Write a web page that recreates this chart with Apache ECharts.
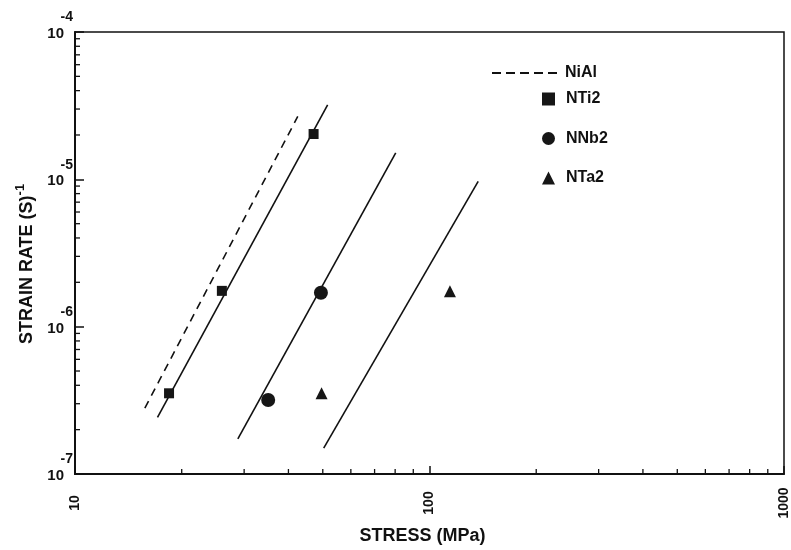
<!DOCTYPE html>
<html><head><meta charset="utf-8">
<script src="https://cdn.jsdelivr.net/npm/echarts@6/dist/echarts.min.js"></script>
<style>html,body{margin:0;padding:0;background:#fff}#c{width:791px;height:550px}</style>
</head><body><div id="c"></div>
<script>
// ---- data ----
const xTicks = [10, 100, 1000];
const yTicks = [1e-7, 1e-6, 1e-5, 1e-4];
const xMinor = [20,30,40,50,60,70,80,90,200,300,400,500,600,700,800,900];
const yMinor = [2e-7,3e-7,4e-7,5e-7,6e-7,7e-7,8e-7,9e-7,
                2e-6,3e-6,4e-6,5e-6,6e-6,7e-6,8e-6,9e-6,
                2e-5,3e-5,4e-5,5e-5,6e-5,7e-5,8e-5,9e-5];
const niAlLine = [[15.74, 2.80e-7], [42.5, 2.67e-5]];
const nti2Fit  = [[17.09, 2.42e-7], [51.6, 3.20e-5]];
const nnb2Fit  = [[28.8, 1.73e-7], [80.3, 1.51e-5]];
const nta2Fit  = [[50.3, 1.50e-7], [137.2, 9.7e-6]];
const nti2Pts  = [[18.42, 3.53e-7], [25.96, 1.75e-6], [47.1, 2.03e-5]];
const nnb2Pts  = [[35.07, 3.18e-7], [49.4, 1.70e-6]];
const nta2Pts  = [[49.6, 3.53e-7], [114.2, 1.74e-6]];
const xTitle = 'STRESS (MPa)';
const yTitle = 'STRAIN RATE (S)';
const yTitleSup = '-1';

// ---- chart ----
const FF = '"Liberation Sans", Arial, Helvetica, sans-serif';
const INK = '#111';
const chart = echarts.init(document.getElementById('c'), null, {renderer: 'canvas'});

const lineBase = (name, data, type) => ({
  name, type: 'line', data, symbol: 'none', silent: true, z: 3,
  lineStyle: {color: INK, width: 1.6, type: type || 'solid'},
  itemStyle: {color: INK}
});
const ptsBase = (name, data, symbol, size) => ({
  name, type: 'scatter', data, symbol, symbolSize: size, z: 5,
  itemStyle: {color: '#161616', opacity: 1}
});
const legendText = {color: INK, fontSize: 16, fontWeight: 'bold', fontFamily: FF};

chart.setOption({
  animation: false,
  backgroundColor: '#fff',
  grid: {left: 75, right: 5, top: 32, bottom: 75, show: true, borderColor: INK, borderWidth: 1.5},
  legend: [
    {
      data: [{name: 'NiAl', icon: 'path://M0 0H9V2H0Z M14 0H23V2H14Z M28 0H37V2H28Z M42 0H51V2H42Z M56 0H65V2H56Z'}],
      left: 487, top: 60, itemWidth: 65, itemHeight: 2,
      itemStyle: {color: INK, opacity: 1},
      textStyle: Object.assign({padding: [0, 0, 0, 3]}, legendText)
    },
    {
      data: [{name: 'NTi2', icon: 'rect'}, {name: 'NNb2', icon: 'circle'}, {name: 'NTa2', icon: 'triangle'}],
      orient: 'vertical', left: 537, top: 86, itemWidth: 13, itemHeight: 13, itemGap: 23.5,
      itemStyle: {opacity: 1},
      textStyle: Object.assign({padding: [0, 0, 0, 6]}, legendText)
    }
  ],
  xAxis: {
    type: 'log', logBase: 10, min: xTicks[0], max: xTicks[xTicks.length - 1],
    name: xTitle, nameLocation: 'middle', nameGap: 53,
    nameTextStyle: {color: INK, fontSize: 18, fontWeight: 'bold', fontFamily: FF, padding: [0, 14, 0, 0]},
    axisLine: {lineStyle: {color: INK, width: 2}},
    axisTick: {inside: true, length: 8, lineStyle: {color: INK, width: 1.5}},
    splitLine: {show: false}, minorTick: {show: false},
    axisLabel: {
      rotate: 90, align: 'center', margin: 29, color: INK, fontSize: 14, fontWeight: 'bold', fontFamily: FF,
      formatter: v => String(Math.round(v))
    }
  },
  yAxis: {
    type: 'log', logBase: 10, min: yTicks[0], max: yTicks[yTicks.length - 1],
    name: '{t|' + yTitle + '}{s|' + yTitleSup + '}', nameLocation: 'middle', nameRotate: 90, nameGap: 36,
    nameTextStyle: {
      color: INK, fontFamily: FF, padding: [0, 22, 0, 0],
      rich: {
        t: {fontSize: 18, fontWeight: 'bold', fontFamily: FF, color: INK, lineHeight: 22, verticalAlign: 'bottom'},
        s: {fontSize: 13, fontWeight: 'bold', fontFamily: FF, color: INK, lineHeight: 14, verticalAlign: 'top'}
      }
    },
    axisLine: {lineStyle: {color: INK, width: 2}},
    axisTick: {inside: true, length: 9, lineStyle: {color: INK, width: 1.5}},
    splitLine: {show: false}, minorTick: {show: false},
    axisLabel: {
      align: 'right', margin: 2, padding: [0, 0, 12, 0], color: INK, fontFamily: FF,
      formatter: v => '{s|' + Math.round(Math.log10(v)) + '}\n{b|10}',
      rich: {
        s: {fontSize: 14, fontWeight: 'bold', fontFamily: FF, color: INK, lineHeight: 16},
        b: {fontSize: 15, fontWeight: 'bold', fontFamily: FF, color: INK, lineHeight: 17, padding: [0, 9, 0, 0]}
      }
    }
  },
  series: [
    lineBase('NiAl', niAlLine, [8, 6]),
    lineBase('fitTi', nti2Fit),
    lineBase('fitNb', nnb2Fit),
    lineBase('fitTa', nta2Fit),
    ptsBase('NTi2', nti2Pts, 'rect', 10),
    ptsBase('NNb2', nnb2Pts, 'circle', 14),
    ptsBase('NTa2', nta2Pts, 'triangle', 12),
    {
      name: 'xminor', type: 'scatter', silent: true, clip: false, z: 6,
      data: xMinor.map(v => [v, yTicks[0]]),
      symbol: 'rect', symbolSize: [1.3, 5], symbolOffset: [0, -2.5],
      itemStyle: {color: INK, opacity: 1}
    },
    {
      name: 'yminor', type: 'scatter', silent: true, clip: false, z: 6,
      data: yMinor.map(v => [xTicks[0], v]),
      symbol: 'rect', symbolSize: [5, 1.3], symbolOffset: [2.5, 0],
      itemStyle: {color: INK, opacity: 1}
    }
  ]
});
</script></body></html>
